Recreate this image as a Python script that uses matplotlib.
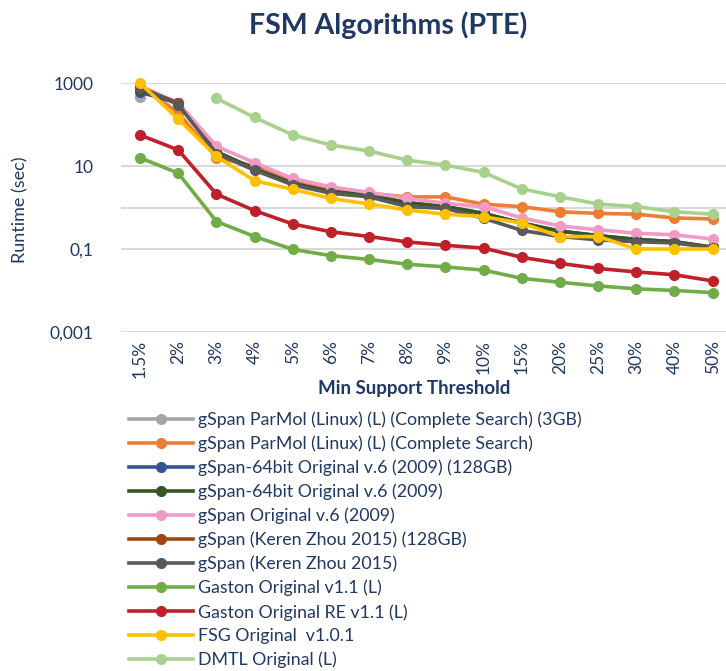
import matplotlib.pyplot as plt
import numpy as np

thresholds = ['1.5%', '2%', '3%', '4%', '5%', '6%', '7%', '8%', '9%', '10%',
              '15%', '20%', '25%', '30%', '40%', '50%']

nan = np.nan

parmol_3gb = [460] + [nan] * 15
parmol = [900, 190, 16, 10, 4.2, 2.8, 2.2, 1.8, 1.8, 1.2, 1.05, 0.79, 0.72, 0.69, 0.56, 0.53]
gspan64_128 = [600, 330, 22, 8.5, 3.8, 2.4, 2.0, 1.3, 1.05, 0.72, 0.42, 0.27, 0.21, 0.17, 0.15, 0.11]
gspan64 = [700, 330, 22, 8.5, 3.8, 2.4, 2.0, 1.3, 1.05, 0.72, 0.42, 0.27, 0.21, 0.17, 0.15, 0.11]
gspan_orig = [850, 330, 30, 12, 5.0, 3.15, 2.3, 1.67, 1.26, 1.05, 0.56, 0.36, 0.29, 0.24, 0.22, 0.174]
zhou_128 = [760, 330] + [nan] * 14
zhou = [800, 300, 20, 7.9, 3.5, 2.2, 1.8, 1.05, 0.95, 0.55, 0.28, 0.2, 0.166, 0.15, 0.14, 0.107]
gaston = [15.8, 6.7, 0.46, 0.2, 0.098, 0.069, 0.056, 0.043, 0.037, 0.031, 0.0196, 0.0158, 0.0129, 0.011, 0.01, 0.0089]
gaston_re = [55.8, 24.3, 2.1, 0.84, 0.4, 0.26, 0.2, 0.148, 0.123, 0.105, 0.063, 0.045, 0.034, 0.028, 0.024, 0.017]
fsg = [990, 135, 17, 4.4, 2.75, 1.66, 1.21, 0.87, 0.69, 0.6, 0.42, 0.2, 0.2, 0.1, 0.1, 0.1]
dmtl = [nan, nan, 427, 148, 56, 32, 23, 13.8, 10.5, 7, 2.8, 1.82, 1.21, 1.05, 0.79, 0.69]

series = [
    ('gSpan ParMol (Linux) (L) (Complete Search) (3GB)', parmol_3gb, '#A5A5A5'),
    ('gSpan ParMol (Linux) (L) (Complete Search)', parmol, '#ED7D31'),
    ('gSpan-64bit Original v.6 (2009) (128GB)', gspan64_128, '#2F5597'),
    ('gSpan-64bit Original v.6 (2009)', gspan64, '#375623'),
    ('gSpan Original v.6 (2009)', gspan_orig, '#F29AC6'),
    ('gSpan (Keren Zhou 2015) (128GB)', zhou_128, '#9E480E'),
    ('gSpan (Keren Zhou 2015)', zhou, '#595959'),
    ('Gaston Original v1.1 (L)', gaston, '#70AD47'),
    ('Gaston Original RE v1.1 (L)', gaston_re, '#C0202A'),
    ('FSG Original  v1.0.1', fsg, '#FFC000'),
    ('DMTL Original (L)', dmtl, '#A9D18E'),
]

navy = '#1F3864'
plt.rcParams['font.family'] = ['Lato', 'DejaVu Sans']

fig = plt.figure(figsize=(7.26, 6.71), dpi=100)
ax = fig.add_axes([0.1667, 0.5052, 0.8333, 0.3711])

x = np.arange(len(thresholds))
for name, vals, col in series:
    ax.plot(x, vals, color=col, lw=2.6, marker='o', markersize=7,
            label=name, clip_on=False, zorder=3)

ax.set_yscale('log')
ax.set_ylim(0.001, 1000)
ax.set_xlim(-0.5, 15.35)

for v in [1000, 10, 1, 0.1, 0.001]:
    ax.axhline(v, color='#D9D9D9', lw=1.5, zorder=1)

ax.set_yticks([1000, 10, 0.1, 0.001])
ax.set_yticklabels(['1000', '10', '0,1', '0,001'])
ax.minorticks_off()
ax.set_xticks(x)
ax.set_xticklabels(thresholds, rotation=90)
ax.tick_params(length=0, labelsize=12.5, colors=navy)
ax.tick_params(axis='y', pad=20)
ax.tick_params(axis='x', pad=6)
for s in ax.spines.values():
    s.set_visible(False)

fig.text(0.535, 0.963, 'FSM Algorithms (PTE)', ha='center', va='center',
         fontsize=20.5, fontweight='bold', color=navy)
fig.text(0.028, 0.687, 'Runtime (sec)', rotation=90, ha='center', va='center',
         fontsize=13, color=navy)
fig.text(0.571, 0.421, 'Min Support Threshold', ha='center', va='center',
         fontsize=13.5, fontweight='bold', color=navy)

leg = fig.legend(loc='upper left', bbox_to_anchor=(0.168, 0.397), frameon=False,
                 fontsize=12.8, labelcolor=navy, handlelength=3.6,
                 handletextpad=0.3, labelspacing=0.42, borderaxespad=0)

fig.savefig('out.png', dpi=100)
